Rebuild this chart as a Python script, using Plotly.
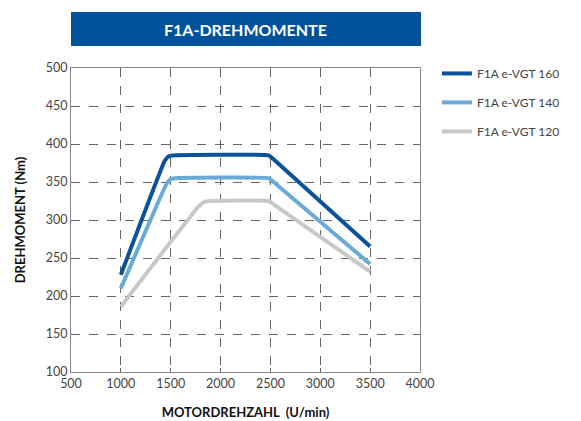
import plotly.graph_objects as go

rpm_160 = [1000, 1440, 1480, 1520, 2480, 2540, 3500]
nm_160 = [228, 378, 384, 385, 385, 379, 265]
rpm_140 = [1000, 1460, 1500, 1540, 2480, 2540, 3500]
nm_140 = [210, 348, 354, 355, 355, 349, 242]
rpm_120 = [1000, 1780, 1840, 1900, 2480, 2560, 3500]
nm_120 = [186, 318, 324, 325, 325, 318, 232]

names = ["F1A e-VGT 160", "F1A e-VGT 140", "F1A e-VGT 120"]
colors = ["#0b529c", "#6aaad6", "#c8c8c8"]

x_ticks = [500, 1000, 1500, 2000, 2500, 3000, 3500, 4000]
y_ticks = [100, 150, 200, 250, 300, 350, 400, 450, 500]

font_fam = "Lato, 'Open Sans', sans-serif"

fig = go.Figure()
for i, (xs, ys, n, c) in enumerate(zip([rpm_160, rpm_140, rpm_120], [nm_160, nm_140, nm_120], names, colors)):
    fig.add_trace(go.Scatter(x=xs, y=ys, mode="lines", name=n, legendgroup=f"g{i}",
                             line=dict(color=c, width=4, shape="spline", smoothing=0.3)))

fig.update_layout(
    width=581, height=421,
    margin=dict(l=71, r=161, t=68, b=49, autoexpand=False),
    paper_bgcolor="white", plot_bgcolor="white",
    font=dict(family=font_fam, size=12, color="#444"),
    showlegend=True,
    legend=dict(xref="container", yref="container", x=0.752, y=0.86,
                xanchor="left", yanchor="top",
                font=dict(size=12, color="#444"), itemwidth=30,
                tracegroupgap=10, bgcolor="rgba(0,0,0,0)"),
    xaxis=dict(range=[500, 4000], tickvals=x_ticks, showgrid=True,
               gridcolor="#666", griddash="dash", gridwidth=1,
               showline=True, linecolor="#888", linewidth=1, mirror=True,
               ticks="inside", ticklen=4, tickcolor="#666", automargin=False,
               zeroline=False, tickfont=dict(size=12.5, color="#444"),
               title=dict(text="<b>MOTORDREHZAHL  (U/min)</b>", font=dict(size=13, color="#111"), standoff=17)),
    yaxis=dict(range=[100, 500], tickvals=y_ticks, showgrid=True,
               gridcolor="#666", griddash="dash", gridwidth=1,
               showline=True, linecolor="#888", linewidth=1, mirror=True,
               zeroline=False, automargin=False, tickfont=dict(size=12.5, color="#444"),
               title=dict(text="<b>DREHMOMENT (Nm)</b>", font=dict(size=13, color="#111"), standoff=17)),
)

fig.add_shape(type="rect", xref="paper", yref="paper",
              x0=0, x1=1.003, y0=1.072, y1=1.184,
              fillcolor="#00529b", line=dict(width=0), layer="above")
fig.add_annotation(xref="paper", yref="paper", x=0.5, y=1.128, yanchor="middle",
                   text="<b>F1A-DREHMOMENTE</b>", showarrow=False,
                   font=dict(size=16, color="white", family=font_fam))

fig.write_html("out.html", config={"displayModeBar": False},
               post_script="document.body.style.margin='0';")
